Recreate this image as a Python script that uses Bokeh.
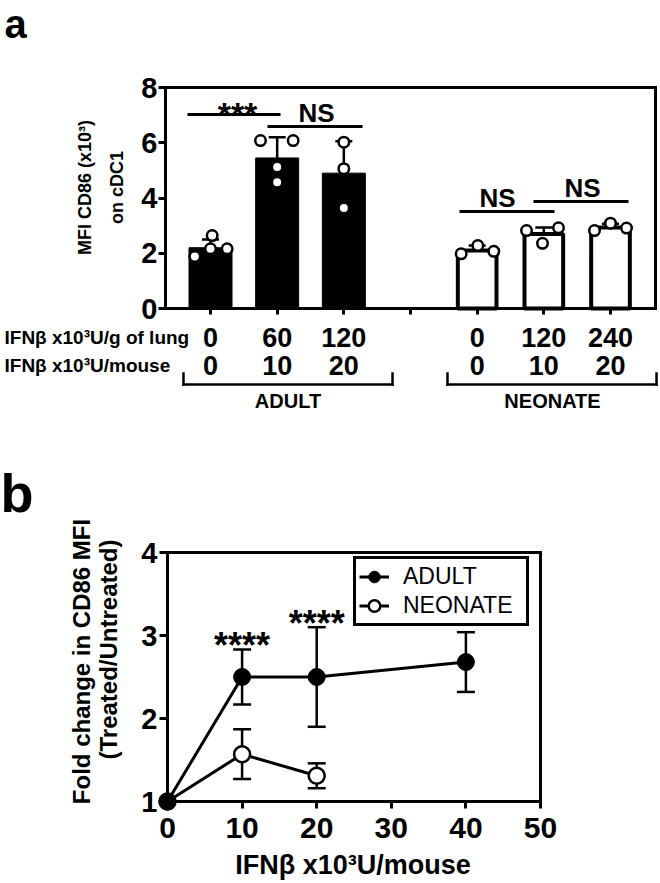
import math
from bokeh.plotting import figure
from bokeh.layouts import column
from bokeh.models import (Label, Legend, LegendItem, Whisker, ColumnDataSource,
                          TeeHead, FixedTicker, Range1d)
from bokeh.core.properties import value
from bokeh.embed import file_html
from bokeh.resources import INLINE

FONT = "Liberation Sans"

# ---------------- data: panel a ----------------
bar_pos = [0, 1, 2, 4, 5, 6]
bar_group = ["ADULT", "ADULT", "ADULT", "NEONATE", "NEONATE", "NEONATE"]
dose_per_g_lung = ["0", "60", "120", "0", "120", "240"]
dose_per_mouse_a = ["0", "10", "20", "0", "10", "20"]
bar_mean = [2.2, 5.45, 4.9, 2.1, 2.7, 2.93]
bar_sd = [0.3, 0.75, 1.15, 0.18, 0.23, 0.14]
point_values = [[1.88, 2.16, 2.16, 2.64],
                [6.08, 6.08, 5.12, 4.57],
                [6.02, 5.06, 3.64],
                [1.98, 2.28, 2.07],
                [2.82, 2.92, 2.36],
                [2.82, 3.09, 2.91]]
point_jitter = [[-0.235, 0.0, 0.25, 0.025],
                [-0.25, 0.24, 0.0, 0.0],
                [0.0, 0.0, 0.0],
                [-0.24, 0.01, 0.25],
                [-0.26, 0.22, -0.02],
                [-0.24, 0.0, 0.24]]
a_ticks = [0, 1, 2, 3, 4, 5, 6]
a_yticks = [0, 2, 4, 6, 8]
a_xlim = (-0.675, 6.675)
a_ylim = (0, 8)

# ---------------- data: panel b ----------------
adult_dose = [0, 10, 20, 40]
adult_fc = [1.0, 2.5, 2.5, 2.68]
adult_err = [0.0, 0.33, 0.6, 0.36]
neo_dose = [0, 10, 20]
neo_fc = [1.0, 1.57, 1.31]
neo_err = [0.0, 0.3, 0.15]
b_xticks = [0, 10, 20, 30, 40, 50]
b_yticks = [1, 2, 3, 4]

# ---------------- layout ----------------
W = 660
H_A = 440
H_B = 883 - H_A


def make_fig(height, x_px, y_px):
    """x_px/y_px: ((data0, px0), (data1, px1)) pairs, px relative to this canvas."""
    (dx0, px0), (dx1, px1) = x_px
    (dy0, py0), (dy1, py1) = y_px
    kx = (px1 - px0) / (dx1 - dx0)
    ky = (py1 - py0) / (dy1 - dy0)
    xs = dx0 - px0 / kx
    xe = xs + W / kx
    ye = dy0 - py0 / ky
    ys = ye + height / ky
    p = figure(width=W, height=height, output_backend="svg", toolbar_location=None,
               x_range=Range1d(xs, xe), y_range=Range1d(ys, ye))
    p.min_border = 0
    p.min_border_left = 0
    p.min_border_right = 0
    p.min_border_top = 0
    p.min_border_bottom = 0
    p.title.visible = False
    p.grid.visible = False
    p.outline_line_color = None
    p.background_fill_color = "white"
    p.border_fill_color = "white"

    def fx(px):
        return xs + px / kx

    def fy(py):
        return ye + py / ky

    return p, fx, fy


def style_axes(p):
    for axis in (p.xaxis[0], p.yaxis[0]):
        axis.axis_line_width = 3
        axis.axis_line_cap = "square"
        axis.major_tick_line_width = 3
        axis.minor_tick_line_color = None
        axis.major_tick_in = 0
        axis.major_label_text_font = FONT
        axis.major_label_text_font_style = "bold"
        axis.major_label_text_color = "black"


def lab(p, x, y, text, size, style="bold", align="center", angle=0.0):
    p.add_layout(Label(x=x, y=y, text=text, text_font=FONT, text_font_size=size,
                       text_font_style=style, text_align=align, text_baseline="middle",
                       angle=angle, text_color="black"))


# ---------------- panel a ----------------
pa, ax, ay = make_fig(H_A, ((0, 210), (6, 610)), ((0, 308), (8, 87)))
style_axes(pa)
pa.xaxis.fixed_location = a_ylim[0]
pa.xaxis.bounds = a_xlim
pa.yaxis.fixed_location = a_xlim[0]
pa.yaxis.bounds = a_ylim
pa.yaxis.ticker = FixedTicker(ticks=a_yticks)
pa.yaxis.major_tick_out = 7
pa.yaxis.major_label_standoff = 1
pa.yaxis.major_label_text_font_size = "29px"
pa.xaxis.ticker = FixedTicker(ticks=a_ticks)
pa.xaxis.major_tick_out = 6
pa.xaxis.major_label_standoff = 13
pa.xaxis.major_label_text_font_size = "27px"
overrides = {t: "" for t in a_ticks}
for pos, t1 in zip(bar_pos, dose_per_g_lung):
    overrides[pos] = t1
pa.xaxis.major_label_overrides = overrides

# frame (top / right)
pa.segment(x0=[a_xlim[0], a_xlim[1]], y0=[a_ylim[1], a_ylim[0]],
           x1=[a_xlim[1], a_xlim[1]], y1=[a_ylim[1], a_ylim[1]],
           line_width=3, line_color="black", line_cap="square")

adult_idx = [i for i, g in enumerate(bar_group) if g == "ADULT"]
neo_idx = [i for i, g in enumerate(bar_group) if g == "NEONATE"]
pa.vbar(x=[bar_pos[i] for i in adult_idx], top=[bar_mean[i] for i in adult_idx],
        width=0.645, bottom=0, fill_color="black", line_color="black", line_width=1)
pa.vbar(x=[bar_pos[i] for i in neo_idx], top=[bar_mean[i] for i in neo_idx],
        width=0.58, bottom=0, fill_color="white", line_color="black", line_width=4)

err_src = ColumnDataSource(dict(x=bar_pos, lower=bar_mean,
                                upper=[m + s for m, s in zip(bar_mean, bar_sd)]))
pa.add_layout(Whisker(source=err_src, base="x", lower="lower", upper="upper",
                      line_width=2.5, line_color="black", lower_head=None,
                      upper_head=TeeHead(size=17, line_width=2.5, line_color="black")))

px, py = [], []
for pos, vals, jit in zip(bar_pos, point_values, point_jitter):
    for v, j in zip(vals, jit):
        px.append(pos + j)
        py.append(v)
pa.scatter(px, py, marker="circle", size=10.5, fill_color="white",
           line_color="black", line_width=2.5)

# significance brackets (panel a)
sig_x0 = [ax(187), ax(267), ax(459), ax(533)]
sig_x1 = [ax(280), ax(362), ax(554), ax(628)]
sig_y = [ay(114), ay(126), ay(211), ay(201)]
pa.segment(x0=sig_x0, y0=sig_y, x1=sig_x1, y1=sig_y, line_width=3, line_color="black")
pa.text(x=[ax(237)], y=[ay(106 + 0.21 * 34)], text=["***"],
        text_font=value(FONT), text_font_style="bold", text_font_size="34px",
        text_align="center", text_baseline="middle")
pa.text(x=[ax(316), ax(497), ax(582)], y=[ay(112.5), ay(197.5), ay(187.5)],
        text=["NS", "NS", "NS"], text_font=value(FONT), text_font_style="bold",
        text_font_size="26px", text_align="center", text_baseline="middle")

lab(pa, ax(4), ay(23), "a", "40px", align="left")
lab(pa, ax(84.5), ay(187), "MFI CD86 (x10\u00b3)", "18px", angle=math.pi / 2)
lab(pa, ax(116), ay(187), "on cDC1", "18px", angle=math.pi / 2)

row1_y = ay(337)
row2_y = ay(365)
lab(pa, ax(4), row1_y, "IFN\u03b2 x10\u00b3U/g of lung", "19px", align="left")
lab(pa, ax(4), row2_y, "IFN\u03b2 x10\u00b3U/mouse", "19px", align="left")
for pos, t2 in zip(bar_pos, dose_per_mouse_a):
    lab(pa, pos, row2_y, t2, "27px")

br_top, br_bot = ay(373), ay(384)
bx0s, bx1s, bys0, bys1 = [], [], [], []
for (l, r), name, cx in [((183, 392), "ADULT", 287.5), ((447, 656), "NEONATE", 552)]:
    xl, xr = ax(l), ax(r)
    for (x0, y0, x1, y1) in [(xl, br_bot, xr, br_bot), (xl, br_top, xl, br_bot),
                             (xr, br_top, xr, br_bot)]:
        bx0s.append(x0); bys0.append(y0); bx1s.append(x1); bys1.append(y1)
    lab(pa, ax(cx), ay(400), name, "20px")
pa.segment(x0=bx0s, y0=bys0, x1=bx1s, y1=bys1, line_width=2.5, line_color="black",
           line_cap="square")

# ---------------- panel b ----------------
OFF = H_A
pb, bx, by = make_fig(H_B, ((0, 167), (50, 540)), ((1, 801 - OFF), (4, 552 - OFF)))
style_axes(pb)
pb.xaxis.fixed_location = b_yticks[0]
pb.yaxis.fixed_location = b_xticks[0]
pb.xaxis.bounds = (b_xticks[0], b_xticks[-1])
pb.yaxis.bounds = (b_yticks[0], b_yticks[-1])
pb.xaxis.ticker = FixedTicker(ticks=b_xticks)
pb.yaxis.ticker = FixedTicker(ticks=b_yticks)
pb.xaxis.major_tick_out = 7
pb.xaxis.major_label_standoff = 9
pb.xaxis.major_label_text_font_size = "30px"
pb.yaxis.major_tick_out = 8
pb.yaxis.major_label_standoff = 2
pb.yaxis.major_label_text_font_size = "29px"

pb.segment(x0=[b_xticks[0], b_xticks[-1]], y0=[b_yticks[-1], b_yticks[0]],
           x1=[b_xticks[-1], b_xticks[-1]], y1=[b_yticks[-1], b_yticks[-1]],
           line_width=3, line_color="black", line_cap="square")

for xs_, ys_, es_ in [(adult_dose, adult_fc, adult_err), (neo_dose, neo_fc, neo_err)]:
    keep = [i for i, e in enumerate(es_) if e > 0]
    src = ColumnDataSource(dict(x=[xs_[i] for i in keep],
                                lower=[ys_[i] - es_[i] for i in keep],
                                upper=[ys_[i] + es_[i] for i in keep]))
    pb.add_layout(Whisker(source=src, base="x", lower="lower", upper="upper",
                          line_width=2.5, line_color="black",
                          lower_head=TeeHead(size=18, line_width=2.5, line_color="black"),
                          upper_head=TeeHead(size=18, line_width=2.5, line_color="black")))

ln_n = pb.line(neo_dose, neo_fc, line_width=3, line_color="black")
ln_a = pb.line(adult_dose, adult_fc, line_width=3, line_color="black")
sc_n = pb.scatter(neo_dose, neo_fc, marker="circle", size=16, fill_color="white",
                  line_color="black", line_width=2.5)
sc_a = pb.scatter(adult_dose, adult_fc, marker="circle", size=17, fill_color="black",
                  line_color="black", line_width=1)

pb.text(x=[adult_dose[1], adult_dose[2]],
        y=[by(637.5 - OFF + 0.21 * 36), by(615 - OFF + 0.21 * 36)],
        text=["****", "****"], text_font=value(FONT), text_font_style="bold",
        text_font_size="36px", text_align="center", text_baseline="middle")

legend = Legend(items=[LegendItem(label="ADULT", renderers=[ln_a, sc_a]),
                       LegendItem(label="NEONATE", renderers=[ln_n, sc_n])],
                location=(353, H_B - (626 - OFF)))
legend.border_line_color = "black"
legend.border_line_alpha = 1.0
legend.border_line_width = 3
legend.label_text_font = FONT
legend.label_text_font_size = "23px"
legend.label_text_font_style = "normal"
legend.label_text_color = "black"
legend.padding = 3
legend.spacing = 0
legend.margin = 0
legend.glyph_width = 30
legend.glyph_height = 29
legend.label_height = 29
legend.label_width = 120
legend.label_standoff = 14
legend.background_fill_alpha = 1.0
pb.add_layout(legend)

lab(pb, bx(0), by(512 - OFF - 0.36 * 54), "b", "54px", align="left")
lab(pb, bx(81), by(661 - OFF), "Fold change in CD86 MFI", "24px", angle=math.pi / 2)
lab(pb, bx(107.5), by(649 - OFF), "(Treated/Untreated)", "24px", angle=math.pi / 2)
lab(pb, bx(352.5), by(864 - OFF), "IFN\u03b2 x10\u00b3U/mouse", "27px")

layout = column(pa, pb)
open("out.html", "w").write(file_html(layout, INLINE))
